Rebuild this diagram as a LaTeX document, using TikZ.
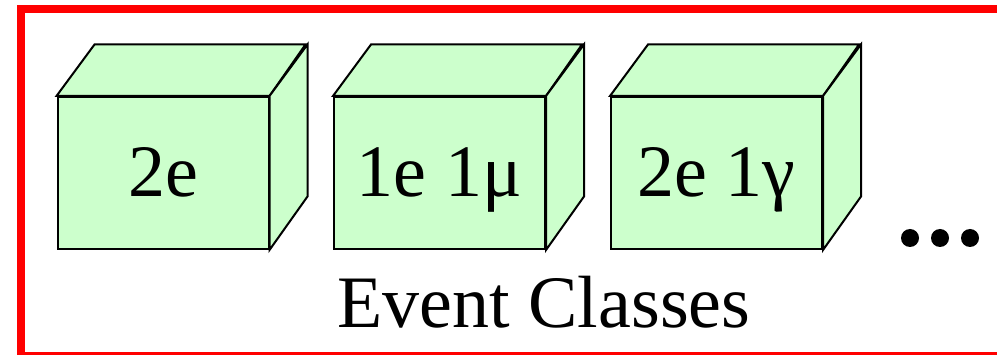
\documentclass[tikz,border=0pt]{standalone}
\usepackage{fontspec}
\setmainfont{Liberation Serif}
\definecolor{cubegreen}{HTML}{CCFFCC}
\definecolor{boxred}{HTML}{FF0000}
\newcommand{\bigfont}{\fontsize{74}{80}\selectfont\rmfamily}
\begin{document}
\begin{tikzpicture}[x=1pt,y=-1pt,
  face/.style={draw=black, line width=2pt, fill=cubegreen, line join=miter},
  front/.style={face, rectangle, minimum width=211pt, minimum height=152pt,
    inner sep=0pt, anchor=north west, text height=48pt, text depth=0pt,
    font=\bigfont},
  bigdot/.style={circle, fill=black, minimum size=18pt, inner sep=0pt},
  caption/.style={anchor=base, inner sep=0pt, font=\bigfont}]
\useasboundingbox (0,0) rectangle (997,355);
\begin{scope}
  \clip (0,0) rectangle (997,355);
  \draw[boxred, line width=8pt] (21,9) rectangle (1010,356);
\end{scope}
% cubes
\node[front] (c1) at (56.5,96) {2e};
\node[front] (c2) at (333,96) {1e 1μ\hspace{8pt}};
\node[front] (c3) at (610,96) {2e 1γ};
\foreach \name in {c1,c2,c3} {
  \draw[face] (\name.north west) -- ++(38,-51.5) -- ++(211,0) -- (\name.north east) -- cycle;
  \draw[face] (\name.north east) -- ++(38,-51.5) -- ++(0,152) -- (\name.south east) -- cycle;
}
% dots
\node[bigdot] (d1) at (910,238) {};
\node[bigdot] (d2) at (940,238) {};
\node[bigdot] (d3) at (970,238) {};
% caption
\node[caption] (cap) at (544,328) {Event Classes};
\end{tikzpicture}
\end{document}
